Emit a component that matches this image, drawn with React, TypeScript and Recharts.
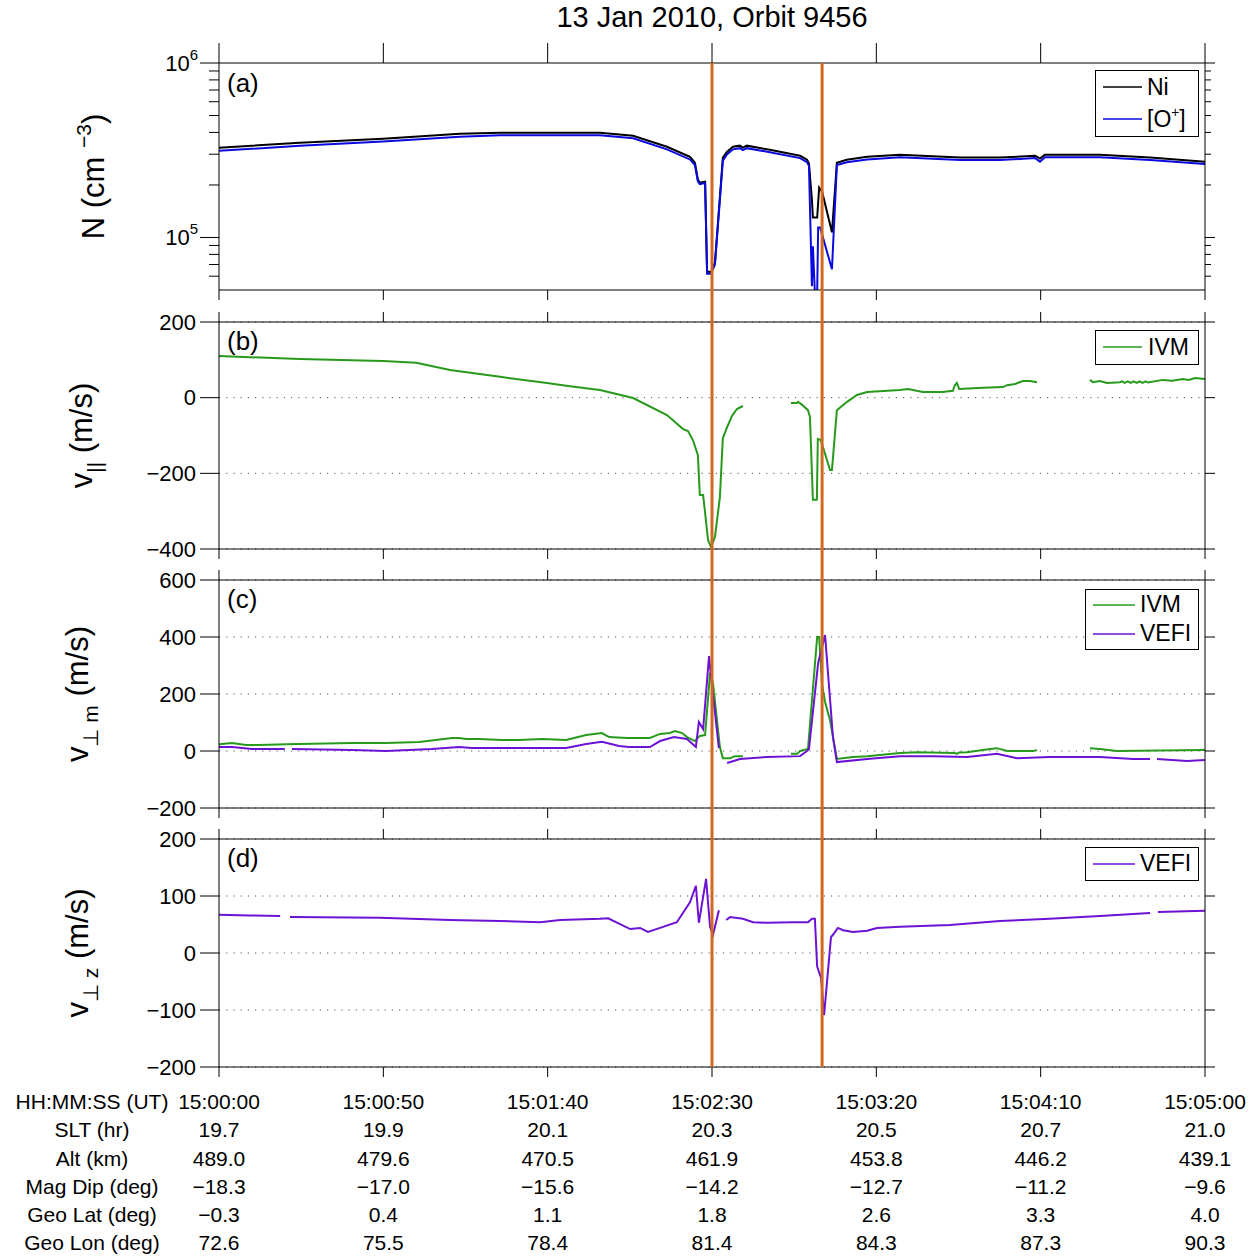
import React from 'react';
import { LineChart, Line, XAxis, YAxis, CartesianGrid, Legend } from 'recharts';

const FONT = '"Liberation Sans", Arial, Helvetica, sans-serif';
const W = 1255;
const H = 1258;

// ---------- shared x axis (seconds after 15:00:00) ----------
const xTicks = [0, 50, 100, 150, 200, 250, 300];
const utLabels = ['15:00:00', '15:00:50', '15:01:40', '15:02:30', '15:03:20', '15:04:10', '15:05:00'];
const sltLabels = ['19.7', '19.9', '20.1', '20.3', '20.5', '20.7', '21.0'];
const altLabels = ['489.0', '479.6', '470.5', '461.9', '453.8', '446.2', '439.1'];
const dipLabels = ['\u221218.3', '\u221217.0', '\u221215.6', '\u221214.2', '\u221212.7', '\u221211.2', '\u22129.6'];
const latLabels = ['\u22120.3', '0.4', '1.1', '1.8', '2.6', '3.3', '4.0'];
const lonLabels = ['72.6', '75.5', '78.4', '81.4', '84.3', '87.3', '90.3'];
const rowTitles = ['HH:MM:SS (UT)', 'SLT (hr)', 'Alt (km)', 'Mag Dip (deg)', 'Geo Lat (deg)', 'Geo Lon (deg)'];
const bottomRows = [utLabels, sltLabels, altLabels, dipLabels, latLabels, lonLabels];

const eventTimes = [150, 183.5];

// ---------- panel (a): densities ----------
const nTicks = [60000, 70000, 80000, 90000, 100000, 200000, 300000, 400000, 500000, 600000, 700000, 800000, 900000, 1000000];
const niSeries: [number, number | null][] = [
  [0, 327000], [24.6, 349000], [49.9, 368000], [73.3, 393000], [85.5, 398000], [115.9, 398000], [126, 383000],
  [136.3, 331000], [143.3, 290000], [144.8, 268000], [145.7, 215000], [146.3, 206000], [147.9, 209000],
  [148.5, 64000], [149.7, 63000], [150.9, 72000], [153.3, 287000], [154.6, 310000], [156.4, 331000],
  [158.5, 336000], [159.4, 327000], [160.6, 336000], [167.6, 318000], [176.8, 294000], [178.9, 279000],
  [179.5, 265000], [180.4, 165000], [180.7, 130000], [182, 130000], [182.6, 193000], [183.5, 183000],
  [186.5, 107000], [188, 268000], [191, 279000], [197.2, 290000], [207.2, 298000], [225.5, 287000],
  [237.6, 287000], [248.3, 294000], [249.8, 283000], [251.3, 298000], [268, 298000], [283.3, 287000], [300, 272000],
];
const oPlusSeries: [number, number | null][] = [
  [0, 314000], [24.6, 335000], [49.9, 355000], [73.3, 378000], [85.5, 385000], [115.9, 385000], [126, 370000],
  [136.3, 320000], [143.3, 280000], [144.8, 260000], [145.7, 210000], [146.3, 202000], [147.9, 205000],
  [148.5, 62000], [149.7, 62000], [150.9, 70000], [153.3, 275000], [154.6, 300000], [156.4, 320000],
  [158.5, 325000], [159.4, 317000], [160.6, 325000], [167.6, 308000], [176.8, 285000], [178.9, 270000],
  [179.5, 258000], [180.4, 52500], [180.7, 89000], [181.3, 48000], [182, 48000], [182.3, 114000],
  [182.9, 114000], [186.5, 65700], [188, 260000], [191, 270000], [197.2, 280000], [207.2, 288000],
  [225.5, 278000], [237.6, 278000], [248.3, 285000], [249.8, 272000], [251.3, 288000], [268, 288000],
  [283.3, 278000], [300, 264000],
];

// ---------- panel (b): v parallel ----------
const bTicks = [-400, -200, 0, 200];
const ivmParSeries: [number, number | null][] = [
  [0, 110], [24.6, 102], [49.9, 97], [60, 92], [70.3, 73], [85.5, 55], [99.8, 39], [106.8, 30], [115.9, 20],
  [126, -1], [136.3, -46], [141.2, -83], [142.7, -88], [144.2, -112], [145.7, -152], [146.3, -257],
  [147.3, -257], [148.8, -376], [149.7, -395], [150.9, -368], [152.4, -263], [153.3, -107], [154.6, -78],
  [156.1, -48], [157.6, -30], [159.4, -22], [166, null], [174, -14], [175.9, -14], [176.2, -11], [177.4, -19],
  [179.2, -33], [179.8, -51], [180.7, -270], [181.9, -270], [182.2, -109], [183.1, -112], [185.9, -191],
  [186.5, -191], [188, -33], [191.1, -11], [194.1, 7], [197.2, 15], [207.2, 20], [209.6, 23], [214.2, 15],
  [220, 15], [223.3, 18], [223.9, 33], [224.5, 39], [225.2, 23], [232.5, 26], [238.5, 28], [239.8, 33],
  [242.2, 36], [244.6, 44], [246.8, 44], [248.9, 41], [257, null], [265, 47], [265.9, 41], [268, 44],
  [270.2, 39], [274.1, 41], [274.7, 43], [275.6, 39], [276.5, 43], [277.4, 39], [278.3, 43], [279.2, 39],
  [280.1, 43], [281, 39], [281.9, 43], [282.6, 40], [287.2, 47], [290, 45], [293.3, 49], [295, 47], [297, 52], [300, 49],
];

// ---------- panel (c): v perp meridional ----------
const cTicks = [-200, 0, 200, 400, 600];
const ivmPerpSeries: [number, number | null][] = [
  [0, 24], [4, 28], [8.2, 21], [12.2, 21], [20.4, 24], [40.5, 28], [50.8, 28], [60.9, 32], [70.9, 46], [73, 46],
  [75.2, 42], [79.1, 42], [86.1, 39], [91.3, 39], [98.3, 42], [105.6, 39], [111.7, 56], [116.5, 63], [118.7, 49],
  [124.1, 46], [131.1, 46], [134.2, 60], [137.2, 63], [138.7, 70], [140.9, 63], [142.4, 49], [144.8, 35],
  [146.3, 53], [147.9, 56], [149.4, 274], [150.3, 239], [152.4, 14], [153.3, -25], [155.5, -25], [157, -18],
  [159.4, -18], [166, null], [174, -10], [175.9, -10], [176.8, 0], [179.2, 7], [182, 400], [182.6, 400],
  [183.5, 232], [184.4, 172], [185.9, 109], [188, -28], [192.9, -21], [197.2, -18], [207.2, -7], [212.4, -4],
  [223.9, -7], [224.5, -10], [225.2, -5], [227.6, -4], [234.6, 7], [236.7, 10], [239.8, 0], [247.7, 0],
  [248.9, 3], [257, null], [265, 10], [268, 7], [273.2, 0], [286.3, 2], [300, 3.5],
];
const vefiPerpSeries: [number, number | null][] = [
  [0, 14], [4, 14], [10, 7], [20, 7], [21.2, null], [22.2, 7], [40.5, 3.5], [50.8, 0], [64.8, 7], [73, 14],
  [77, 10.5], [91.3, 10.5], [105.6, 10.5], [111.7, 24.5], [116.5, 32], [119.3, 24.5], [121.7, 17.5],
  [124.7, 14], [131.1, 14], [134.2, 35], [138.4, 49], [142.4, 42], [145.1, 14], [146, 102], [147.3, 77],
  [149.1, 333], [149.7, 260], [152.1, 10], [153.3, null], [154.6, -42], [158.5, -28], [166.7, -21],
  [176.8, -18], [178.9, 0], [179.5, 7], [182.3, 309], [184.4, 407], [186.8, 49], [188, -39], [197.2, -28],
  [207.2, -18], [217.2, -18], [227.6, -21], [236.7, -10], [242.8, -25], [252.8, -21], [268, -21],
  [278.1, -28], [283.3, -28], [284.3, null], [285.4, -28], [294.5, -35], [300, -32],
];

// ---------- panel (d): v perp zonal ----------
const dTicks = [-200, -100, 0, 100, 200];
const vefiZSeries: [number, number | null][] = [
  [0, 67], [9.4, 66], [18.6, 65], [20, null], [21.6, 63], [49, 62], [70.3, 58], [85.5, 56], [97.7, 54],
  [103.8, 58], [115.9, 60], [118.4, 61], [125.1, 42], [128.1, 44], [130.5, 37], [134.2, 44], [139.3, 54],
  [143.3, 89], [145.1, 118], [146, 53], [148.2, 130], [149.4, 46], [150.3, 32], [152.1, 75], [153.2, null],
  [154.3, 58], [155.5, 63], [159.4, 60], [162.5, 54], [166.7, 53], [174.6, 54], [179.2, 54], [180.4, 60],
  [181.3, 60], [182, -24], [183.2, -44], [184.1, -109], [186.2, 28], [186.8, 32], [188.3, 44], [189.9, 40],
  [192.9, 37], [197.2, 39], [200.2, 44], [207.2, 46], [222.4, 49], [237.6, 56], [252.8, 60], [268, 65],
  [283.3, 70], [284.5, null], [285.7, 72], [300, 74],
];

const toData = (s: [number, number | null][]) => s.map(([t, v]) => ({ t, v }));

const COLORS = {
  ni: '#000000',
  o: '#0a0ae0',
  ivm: '#279a1c',
  vefi: '#6c12d4',
  event: '#d2691e',
};

const fmt = (v: number) => (v < 0 ? '\u2212' + Math.abs(v) : String(v));

const renderName = (v: string) =>
  v === '[O+]' ? (
    <>
      [O<sup style={{ fontSize: '0.6em', verticalAlign: '0.7em', lineHeight: 0 }}>+</sup>]
    </>
  ) : (
    v
  );

const makeLegend = (cfg: any) => (props: any) => {
  const payload = props.payload || [];
  return (
    <div
      style={{
        boxSizing: 'border-box',
        width: cfg.w,
        height: cfg.h,
        border: '1px solid #000',
        background: '#fff',
        paddingLeft: cfg.padL,
        fontFamily: FONT,
      }}
    >
      {payload.map((p: any, i: number) => (
        <div key={i} style={{ display: 'flex', alignItems: 'center', height: cfg.rowH }}>
          <svg width={cfg.lineW} height={6} style={{ display: 'block' }}>
            <line x1={0} x2={cfg.lineW} y1={3} y2={3} stroke={p.color} strokeWidth={1.5} />
          </svg>
          <span style={{ marginLeft: cfg.gap, fontSize: 23, lineHeight: '23px', color: '#000' }}>
            {renderName(p.value)}
          </span>
        </div>
      ))}
    </div>
  );
};

const NoTick = () => <g />;

const LogTick = (props: any) => {
  const { x, y, payload, side } = props;
  const v = payload.value;
  const e = Math.round(Math.log10(v));
  const major = Math.abs(v - Math.pow(10, e)) < 1e-6 * v;
  const len = side === 'left' ? (major ? 19 : 10) : major ? 10 : 6;
  const x1 = side === 'left' ? x - len : x + len;
  return (
    <g>
      <line x1={x1} x2={x} y1={y} y2={y} stroke="#000" strokeWidth={1} />
      {side === 'left' && major && (
        <text x={x - len - 2} y={y} dy="0.355em" textAnchor="end" fontSize={22} fill="#000">
          10
          <tspan dy={-11} fontSize={15}>
            {e}
          </tspan>
        </text>
      )}
    </g>
  );
};

const BottomTick = (props: any) => {
  const { x, y, payload } = props;
  const idx = xTicks.indexOf(payload.value);
  return (
    <g>
      {bottomRows.map((row, r) => (
        <text key={r} x={x} y={y + 24.5 + r * 28.3} dy="0.355em" textAnchor="middle" fontSize={21} fill="#000">
          {row[idx]}
        </text>
      ))}
      {idx === 0 &&
        rowTitles.map((s, r) => (
          <text key={'t' + r} x={92} y={y + 24.5 + r * 28.3} dy="0.355em" textAnchor="middle" fontSize={21} fill="#000">
            {s}
          </text>
        ))}
    </g>
  );
};

const YTitle = (props: any) => {
  const { viewBox, kind, bx } = props;
  const cy = viewBox.y + viewBox.height / 2;
  const fs = 31;
  let content: any;
  if (kind === 'a') {
    content = (
      <>
        N (cm{' '}
        <tspan dy={-13} fontSize={21}>
          {'\u22123'}
        </tspan>
        <tspan dy={13}>)</tspan>
      </>
    );
  } else {
    const sub = kind === 'b' ? '||' : kind === 'c' ? '\u22A5 m' : '\u22A5 z';
    content = (
      <>
        v
        <tspan dy={10} fontSize={21}>
          {sub}
        </tspan>
        <tspan dy={-10}> (m/s)</tspan>
      </>
    );
  }
  return (
    <text x={bx} y={cy} textAnchor="middle" fontSize={fs} fill="#000" transform={`rotate(-90, ${bx}, ${cy})`}>
      {content}
    </text>
  );
};

type SeriesCfg = { name: string; color: string; data: any[] };

function Panel(props: any) {
  const {
    plotTop,
    plotH,
    topH = 25,
    botH = 15,
    topTickLen = 10,
    domain,
    ticks,
    log = false,
    grid = true,
    series,
    legend,
    bottomLabels = false,
    titleKind,
    titleX,
  } = props;
  const height = topH + plotH + botH;
  const chartTop = plotTop - topH;
  const LegendContent = makeLegend(legend);
  return (
    <div style={{ position: 'absolute', left: 0, top: chartTop, width: W, height }}>
      <LineChart width={W} height={height} margin={{ top: 0, right: 0, bottom: 0, left: 0 }}>
        {grid && (
          <CartesianGrid xAxisId="b" yAxisId="l" vertical={false} stroke="#555" strokeDasharray="1.2 6" />
        )}
        <XAxis
          xAxisId="t"
          orientation="top"
          type="number"
          dataKey="t"
          domain={[0, 300]}
          ticks={xTicks}
          interval={0}
          height={topH}
          tickSize={topTickLen}
          tick={NoTick}
          stroke="#000"
          allowDataOverflow
        />
        <XAxis
          xAxisId="b"
          orientation="bottom"
          type="number"
          dataKey="t"
          domain={[0, 300]}
          ticks={xTicks}
          interval={0}
          height={botH}
          tickSize={10}
          tickMargin={0}
          tick={bottomLabels ? (p: any) => <BottomTick {...p} /> : NoTick}
          stroke="#000"
          allowDataOverflow
        />
        {log ? (
          <YAxis
            yAxisId="l"
            orientation="left"
            type="number"
            scale="log"
            domain={domain}
            allowDataOverflow
            ticks={ticks}
            interval={0}
            width={219}
            tickSize={0}
            tickMargin={0}
            tickLine={false}
            tick={(p: any) => <LogTick {...p} side="left" />}
            stroke="#000"
            label={{ content: (lp: any) => <YTitle {...lp} kind={titleKind} bx={titleX} /> }}
          />
        ) : (
          <YAxis
            yAxisId="l"
            orientation="left"
            type="number"
            domain={domain}
            allowDataOverflow
            ticks={ticks}
            interval={0}
            width={219}
            tickSize={19}
            tickMargin={4}
            tick={{ fontSize: 22, fill: '#000' }}
            tickFormatter={fmt}
            stroke="#000"
            label={{ content: (lp: any) => <YTitle {...lp} kind={titleKind} bx={titleX} /> }}
          />
        )}
        {log ? (
          <YAxis
            yAxisId="r"
            orientation="right"
            type="number"
            scale="log"
            domain={domain}
            allowDataOverflow
            ticks={ticks}
            interval={0}
            width={50}
            tickSize={0}
            tickMargin={0}
            tickLine={false}
            tick={(p: any) => <LogTick {...p} side="right" />}
            stroke="#000"
          />
        ) : (
          <YAxis
            yAxisId="r"
            orientation="right"
            type="number"
            domain={domain}
            allowDataOverflow
            ticks={ticks}
            interval={0}
            width={50}
            tickSize={10}
            tick={NoTick}
            stroke="#000"
          />
        )}
        {series.map((s: SeriesCfg) => (
          <Line
            key={s.name}
            xAxisId="b"
            yAxisId="l"
            data={s.data}
            dataKey="v"
            name={s.name}
            type="linear"
            stroke={s.color}
            strokeWidth={2}
            dot={false}
            activeDot={false}
            connectNulls={false}
            isAnimationActive={false}
          />
        ))}
        <Legend
          layout="vertical"
          align="center"
          verticalAlign="middle"
          content={LegendContent}
          wrapperStyle={{
            position: 'absolute',
            left: legend.left,
            top: legend.top - chartTop,
            width: legend.w,
            height: legend.h,
            right: 'auto',
            bottom: 'auto',
            margin: 0,
            padding: 0,
          }}
        />
      </LineChart>
    </div>
  );
}

const letterStyle = (top: number): React.CSSProperties => ({
  position: 'absolute',
  left: 227,
  top,
  fontSize: 26,
  lineHeight: '26px',
  color: '#000',
});

export default function App() {
  return (
    <div
      style={{
        position: 'absolute',
        left: 0,
        top: 0,
        width: W,
        height: H,
        background: '#fff',
        fontFamily: FONT,
        color: '#000',
        overflow: 'hidden',
      }}
    >
      <div
        style={{
          position: 'absolute',
          left: 219,
          width: 986,
          top: 3,
          textAlign: 'center',
          fontSize: 29,
          lineHeight: '29px',
        }}
      >
        13 Jan 2010, Orbit 9456
      </div>

      <Panel
        plotTop={63}
        plotH={227}
        topTickLen={20}
        domain={[50000, 1000000]}
        ticks={nTicks}
        log
        grid={false}
        titleKind="a"
        titleX={104}
        series={[
          { name: 'Ni', color: COLORS.ni, data: toData(niSeries) },
          { name: '[O+]', color: COLORS.o, data: toData(oPlusSeries) },
        ]}
        legend={{ left: 1095, top: 70, w: 104, h: 67, rowH: 32, padL: 7, lineW: 39, gap: 5 }}
      />
      <Panel
        plotTop={322}
        plotH={227}
        domain={[-400, 200]}
        ticks={bTicks}
        titleKind="b"
        titleX={92}
        series={[{ name: 'IVM', color: COLORS.ivm, data: toData(ivmParSeries) }]}
        legend={{ left: 1095, top: 330, w: 104, h: 35, rowH: 32, padL: 7, lineW: 39, gap: 6 }}
      />
      <Panel
        plotTop={580}
        plotH={228}
        domain={[-200, 600]}
        ticks={cTicks}
        titleKind="c"
        titleX={88}
        series={[
          { name: 'IVM', color: COLORS.ivm, data: toData(ivmPerpSeries) },
          { name: 'VEFI', color: COLORS.vefi, data: toData(vefiPerpSeries) },
        ]}
        legend={{ left: 1085, top: 589, w: 114, h: 61, rowH: 29, padL: 7, lineW: 42, gap: 5 }}
      />
      <Panel
        plotTop={839}
        plotH={228}
        botH={191}
        domain={[-200, 200]}
        ticks={dTicks}
        titleKind="d"
        titleX={88}
        bottomLabels
        series={[{ name: 'VEFI', color: COLORS.vefi, data: toData(vefiZSeries) }]}
        legend={{ left: 1085, top: 847, w: 114, h: 34, rowH: 31, padL: 7, lineW: 42, gap: 5 }}
      />

      <div style={letterStyle(70)}>(a)</div>
      <div style={letterStyle(328)}>(b)</div>
      <div style={letterStyle(586)}>(c)</div>
      <div style={letterStyle(845)}>(d)</div>

      <div style={{ position: 'absolute', left: 0, top: 0, width: W, height: H, pointerEvents: 'none' }}>
        <LineChart width={W} height={H} margin={{ top: 63, right: 50, bottom: 191, left: 219 }}>
          <XAxis type="number" dataKey="t" domain={[0, 300]} hide height={0} allowDataOverflow />
          <YAxis type="number" domain={[0, 1]} hide width={0} allowDataOverflow />
          {eventTimes.map((t) => (
            <Line
              key={t}
              data={[
                { t, v: 0 },
                { t, v: 1 },
              ]}
              dataKey="v"
              type="linear"
              stroke={COLORS.event}
              strokeWidth={3}
              dot={false}
              activeDot={false}
              isAnimationActive={false}
            />
          ))}
        </LineChart>
      </div>
    </div>
  );
}
